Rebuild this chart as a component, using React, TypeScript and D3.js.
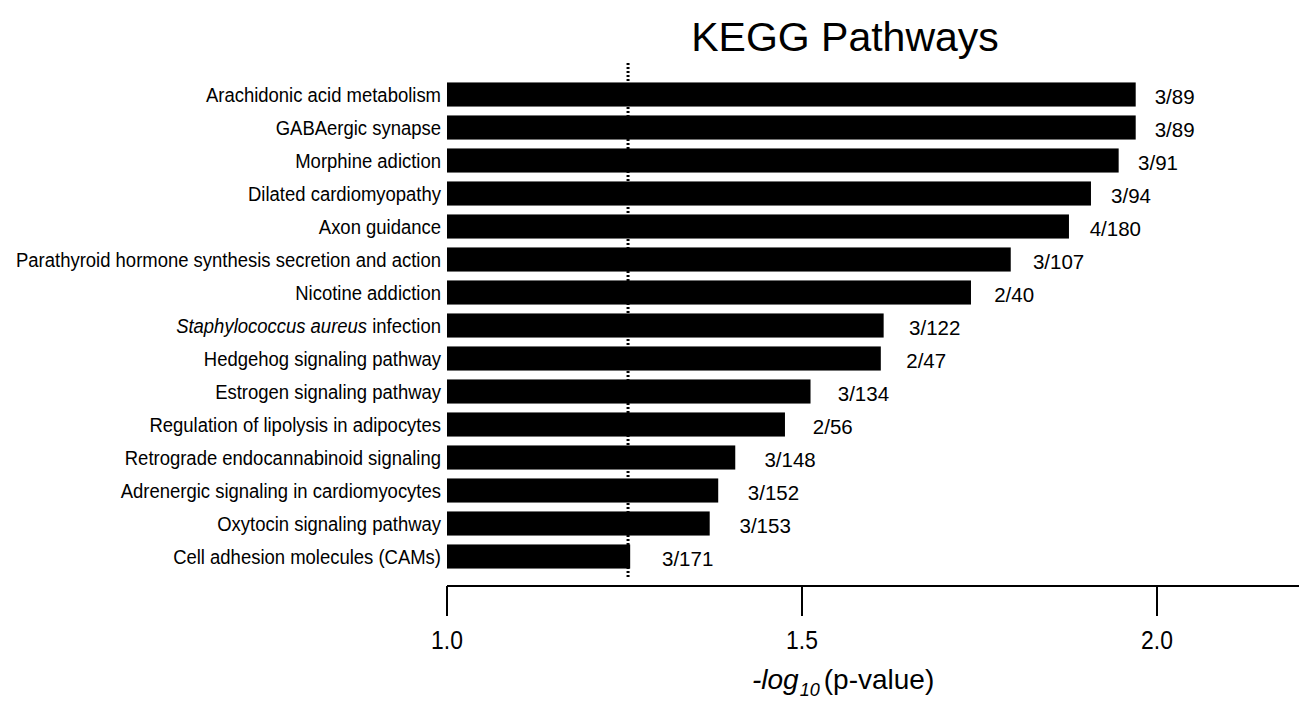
import React from "react";
import * as d3 from "d3";

const categories: string[] = [
  "Arachidonic acid metabolism",
  "GABAergic synapse",
  "Morphine adiction",
  "Dilated cardiomyopathy",
  "Axon guidance",
  "Parathyroid hormone synthesis secretion and action",
  "Nicotine addiction",
  "Staphylococcus aureus infection",
  "Hedgehog signaling pathway",
  "Estrogen signaling pathway",
  "Regulation of lipolysis in adipocytes",
  "Retrograde endocannabinoid signaling",
  "Adrenergic signaling in cardiomyocytes",
  "Oxytocin signaling pathway",
  "Cell adhesion molecules (CAMs)",
];

const values: number[] = [
  1.970, 1.970, 1.946, 1.907, 1.876, 1.794, 1.738, 1.615, 1.611, 1.512, 1.476,
  1.406, 1.382, 1.370, 1.258,
];

const counts: string[] = [
  "3/89", "3/89", "3/91", "3/94", "4/180", "3/107", "2/40", "3/122", "2/47",
  "3/134", "2/56", "3/148", "3/152", "3/153", "3/171",
];

const xTicks: number[] = [1.0, 1.5, 2.0];
const xDomain: [number, number] = [1.0, 2.2];
const threshold = 1.255;

const FONT = "'Liberation Sans', Arial, Helvetica, sans-serif";

export default function App() {
  const W = 1306;
  const H = 701;
  const x = d3.scaleLinear().domain(xDomain).range([447, 1299]);
  const y = d3
    .scaleBand<string>()
    .domain(categories)
    .range([78, 573])
    .paddingInner(0.27)
    .paddingOuter(0.135);
  const axisY = 586;

  const renderLabel = (c: string) => {
    if (c.startsWith("Staphylococcus aureus")) {
      return (
        <>
          <tspan fontStyle="italic">Staphylococcus aureus</tspan>
          <tspan>{c.replace("Staphylococcus aureus", "")}</tspan>
        </>
      );
    }
    return c;
  };

  return (
    <svg
      width={W}
      height={H}
      style={{ position: "absolute", left: 0, top: 0, background: "#fff" }}
      fontFamily={FONT}
    >
      <text x={845} y={51} textAnchor="middle" fontSize={41} fill="#000">
        KEGG Pathways
      </text>

      {categories.map((c, i) => {
        const yc = (y(c) as number) + y.bandwidth() / 2;
        const gap = 19 + (1.97 - values[i]) * 18;
        return (
          <g key={c}>
            <rect
              x={x(xDomain[0])}
              y={y(c)}
              width={x(values[i]) - x(xDomain[0])}
              height={y.bandwidth()}
              fill="#000"
            />
            <text
              transform={`translate(441,${yc + 7.5}) scale(0.88,1)`}
              textAnchor="end"
              fontSize={21}
              fill="#000"
            >
              {renderLabel(c)}
            </text>
            <text
              x={x(values[i]) + gap}
              y={yc + 9}
              fontSize={20.5}
              fill="#000"
            >
              {counts[i]}
            </text>
          </g>
        );
      })}

      <line
        x1={x(threshold)}
        x2={x(threshold)}
        y1={63}
        y2={578}
        stroke="#000"
        strokeWidth={3}
        strokeDasharray="2,2"
      />

      <line
        x1={x(xDomain[0])}
        x2={x(xDomain[1])}
        y1={axisY}
        y2={axisY}
        stroke="#000"
        strokeWidth={2}
      />
      {xTicks.map((t) => (
        <g key={t}>
          <line
            x1={x(t)}
            x2={x(t)}
            y1={axisY}
            y2={axisY + 30}
            stroke="#000"
            strokeWidth={2}
          />
          <text
            transform={`translate(${x(t)},${axisY + 63}) scale(0.88,1)`}
            textAnchor="middle"
            fontSize={26}
            fill="#000"
          >
            {d3.format(".1f")(t)}
          </text>
        </g>
      ))}

      <text x={752} y={689} fontSize={28} fill="#000">
        <tspan fontStyle="italic">-log</tspan>
        <tspan fontStyle="italic" fontSize={18} dy={7} dx={1}>10</tspan>
        <tspan dy={-7} dx={4}>(p-value)</tspan>
      </text>
    </svg>
  );
}
